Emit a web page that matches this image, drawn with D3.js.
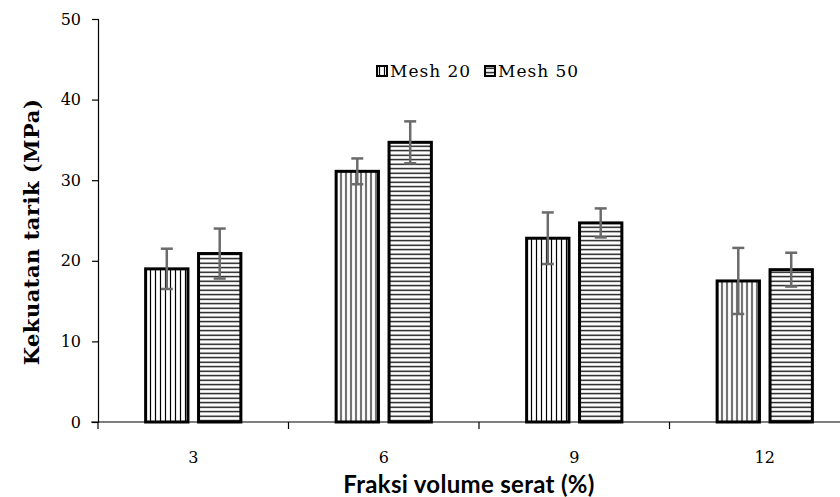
<!DOCTYPE html>
<html>
<head>
<meta charset="utf-8">
<script src="https://cdn.jsdelivr.net/npm/d3@7"></script>
<style>
  body { margin: 0; background: #fff; }
  text { fill: #000; }
</style>
</head>
<body>
<div id="chart"></div>
<script>
const width = 840;
const height = 497;

// data
const categories = ["3", "6", "9", "12"];
const series = ["Mesh 20", "Mesh 50"];
const mesh20 = [19.0, 31.1, 22.8, 17.5];
const mesh50 = [20.9, 34.7, 24.7, 18.9];
const err20 = [2.5, 1.6, 3.2, 4.1];
const err50 = [3.1, 2.6, 1.8, 2.1];
const yTicks = [0, 10, 20, 30, 40, 50];

const rows = categories.map((c, i) => ({
  cat: c,
  vals: [
    { s: series[0], v: mesh20[i], e: err20[i] },
    { s: series[1], v: mesh50[i], e: err50[i] }
  ]
}));

const svg = d3.select("#chart")
  .append("svg")
  .attr("width", width)
  .attr("height", height);

const defs = svg.append("defs");

// vertical stripes for Mesh 20
const pv = defs.append("pattern")
  .attr("id", "vert")
  .attr("patternUnits", "userSpaceOnUse")
  .attr("width", 5).attr("height", 10);
pv.append("rect").attr("width", 5).attr("height", 10).attr("fill", "#fff");
pv.append("line").attr("x1", 2.5).attr("x2", 2.5).attr("y1", 0).attr("y2", 10)
  .attr("stroke", "#000").attr("stroke-width", 1.2);

// horizontal stripes for Mesh 50
const ph = defs.append("pattern")
  .attr("id", "horiz")
  .attr("patternUnits", "userSpaceOnUse")
  .attr("width", 10).attr("height", 4.5);
ph.append("rect").attr("width", 10).attr("height", 4.5).attr("fill", "#fff");
ph.append("line").attr("x1", 0).attr("x2", 10).attr("y1", 2.2).attr("y2", 2.2)
  .attr("stroke", "#000").attr("stroke-width", 1.3);

const fill = { "Mesh 20": "url(#vert)", "Mesh 50": "url(#horiz)" };

const y = d3.scaleLinear().domain([0, 50]).range([422, 19]);

const x0 = d3.scaleBand().domain(categories).range([98, 860]).padding(0);
const x1 = d3.scaleBand().domain(series)
  .range([x0.bandwidth() * 0.25, x0.bandwidth() * 0.75])
  .paddingInner(0.2);

const serif = "'DejaVu Serif', serif";

// y axis
const yAxis = svg.append("g")
  .attr("transform", "translate(98,0)")
  .call(d3.axisLeft(y).tickValues(yTicks).tickSize(6).tickPadding(11));
yAxis.select(".domain").attr("stroke", "#000").attr("stroke-width", 1.2);
yAxis.selectAll(".tick line").attr("stroke-width", 1.2);
yAxis.selectAll(".tick text")
  .attr("font-family", serif)
  .attr("font-size", 16);

// bars
const groups = svg.append("g").selectAll("g")
  .data(rows)
  .join("g")
  .attr("transform", d => `translate(${x0(d.cat)},0)`);

groups.selectAll("rect")
  .data(d => d.vals)
  .join("rect")
  .attr("x", d => x1(d.s))
  .attr("width", x1.bandwidth())
  .attr("y", d => y(d.v))
  .attr("height", d => y(0) - y(d.v))
  .attr("fill", d => fill[d.s])
  .attr("stroke", "#000")
  .attr("stroke-width", 3);

// error bars
const cx = d => x1(d.s) + x1.bandwidth() / 2;
const eb = groups.selectAll(".err")
  .data(d => d.vals)
  .join("g")
  .attr("class", "err")
  .attr("stroke", "#6b6b6b")
  .attr("stroke-width", 2.5);
eb.append("line")
  .attr("x1", cx).attr("x2", cx)
  .attr("y1", d => y(d.v + d.e))
  .attr("y2", d => y(d.v - d.e));
eb.append("line")
  .attr("x1", d => cx(d) - 6).attr("x2", d => cx(d) + 6)
  .attr("y1", d => y(d.v + d.e)).attr("y2", d => y(d.v + d.e));
eb.append("line")
  .attr("x1", d => cx(d) - 6).attr("x2", d => cx(d) + 6)
  .attr("y1", d => y(d.v - d.e)).attr("y2", d => y(d.v - d.e));

// x axis, ticks on the band edges
const xAxis = svg.append("g").attr("transform", `translate(0,${y(0)})`);
xAxis.append("line")
  .attr("x1", 91).attr("x2", width)
  .attr("stroke", "#000").attr("stroke-width", 1.2);
xAxis.selectAll(".edge")
  .data(categories)
  .join("line")
  .attr("class", "edge")
  .attr("x1", d => x0(d)).attr("x2", d => x0(d))
  .attr("y1", 0).attr("y2", 7)
  .attr("stroke", "#000").attr("stroke-width", 1.2);
xAxis.selectAll(".lab")
  .data(categories)
  .join("text")
  .attr("class", "lab")
  .attr("x", d => x0(d) + x0.bandwidth() / 2)
  .attr("y", 41)
  .attr("text-anchor", "middle")
  .attr("font-family", serif)
  .attr("font-size", 16)
  .text(d => d);

// axis titles
svg.append("text")
  .attr("x", 469).attr("y", 493)
  .attr("text-anchor", "middle")
  .attr("font-family", "Lato, 'Open Sans', sans-serif")
  .attr("font-weight", "bold")
  .attr("font-size", 24)
  .attr("letter-spacing", 0.3)
  .text("Fraksi volume serat (%)");

svg.append("text")
  .attr("transform", "translate(39,232) rotate(-90)")
  .attr("text-anchor", "middle")
  .attr("font-family", serif)
  .attr("font-weight", "bold")
  .attr("font-size", 21)
  .attr("letter-spacing", 0.5)
  .text("Kekuatan tarik (MPa)");

// legend
const legend = svg.append("g").selectAll("g")
  .data(series)
  .join("g")
  .attr("transform", (d, i) => `translate(${377 + i * 108},66)`);
legend.append("rect")
  .attr("width", 10).attr("height", 10)
  .attr("fill", d => fill[d])
  .attr("stroke", "#000").attr("stroke-width", 2);
legend.append("text")
  .attr("x", 13).attr("y", 11)
  .attr("font-family", serif)
  .attr("font-size", 17)
  .attr("letter-spacing", 1)
  .text(d => d);
</script>
</body>
</html>
